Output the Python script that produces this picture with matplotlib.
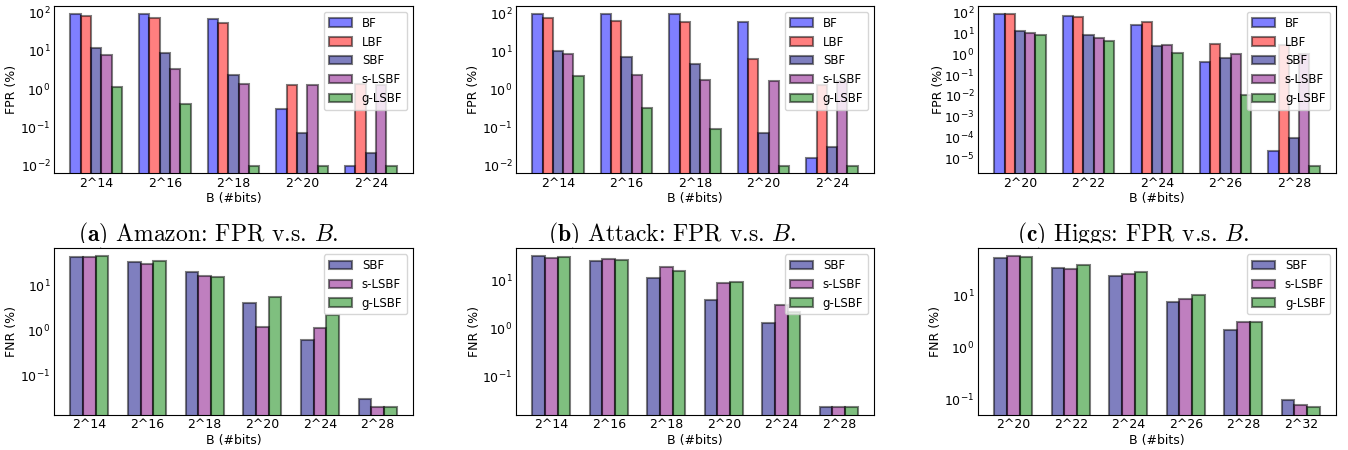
import numpy as np
import matplotlib
matplotlib.use("Agg")
import matplotlib.pyplot as plt
from matplotlib.patches import Rectangle
from matplotlib.ticker import LogLocator

# ---------------- data ----------------
fpr_methods = ["BF", "LBF", "SBF", "s-LSBF", "g-LSBF"]
fnr_methods = ["SBF", "s-LSBF", "g-LSBF"]

amazon_fpr_ticks = ["2^14", "2^16", "2^18", "2^20", "2^24"]
amazon_fpr_bf = [94, 94, 66, 0.295, 0.01]
amazon_fpr_lbf = [80, 74, 55, 1.27, 1.35]
amazon_fpr_sbf = [12.2, 8.7, 2.37, 0.073, 0.021]
amazon_fpr_slsbf = [8.0, 3.26, 1.38, 1.32, 1.32]
amazon_fpr_glsbf = [1.17, 0.40, 0.01, 0.01, 0.01]

attack_fpr_ticks = ["2^14", "2^16", "2^18", "2^20", "2^24"]
attack_fpr_bf = [97, 97, 93, 58, 0.016]
attack_fpr_lbf = [74, 63, 58, 6.4, 1.3]
attack_fpr_sbf = [10, 6.9, 4.5, 0.07, 0.031]
attack_fpr_slsbf = [8.4, 2.33, 1.73, 1.7, 1.7]
attack_fpr_glsbf = [2.2, 0.33, 0.092, 0.01, 0.01]

higgs_fpr_ticks = ["2^20", "2^22", "2^24", "2^26", "2^28"]
higgs_fpr_bf = [90, 72, 26.5, 0.44, 2.2e-5]
higgs_fpr_lbf = [83, 62, 35.5, 3.3, 2.9]
higgs_fpr_sbf = [13.6, 8.7, 2.5, 0.69, 1.0e-4]
higgs_fpr_slsbf = [10.5, 6.3, 2.8, 1.07, 1.0]
higgs_fpr_glsbf = [8.7, 4.5, 1.15, 0.011, 4.5e-6]

amazon_fnr_ticks = ["2^14", "2^16", "2^18", "2^20", "2^24", "2^28"]
amazon_fnr_sbf = [42.4, 32.9, 19.1, 4.0, 0.59, 0.029]
amazon_fnr_slsbf = [43, 29.2, 15.8, 1.19, 1.1, 0.019]
amazon_fnr_glsbf = [44.7, 35, 15.3, 5.5, 2.2, 0.019]

attack_fnr_ticks = ["2^14", "2^16", "2^18", "2^20", "2^24", "2^28"]
attack_fnr_sbf = [31.8, 24.7, 10.8, 3.9, 1.27, 0.0229]
attack_fnr_slsbf = [29.4, 26.8, 18.6, 8.7, 3.1, 0.0229]
attack_fnr_glsbf = [30.4, 25.9, 15.8, 9.2, 2.2, 0.0236]

higgs_fnr_ticks = ["2^20", "2^22", "2^24", "2^26", "2^28", "2^32"]
higgs_fnr_sbf = [51, 33.8, 23.7, 7.3, 2.1, 0.098]
higgs_fnr_slsbf = [57, 31.4, 25.1, 8.6, 3.0, 0.078]
higgs_fnr_glsbf = [55, 38, 27.5, 9.9, 3.1, 0.069]

captions = [r"$\mathbf{(a)}$ Amazon: FPR v.s. $B$.",
            r"$\mathbf{(b)}$ Attack: FPR v.s. $B$.",
            r"$\mathbf{(c)}$ Higgs: FPR v.s. $B$."]

colors = {"BF": "blue", "LBF": "red", "SBF": "navy",
          "s-LSBF": "purple", "g-LSBF": "green"}

# ---------------- figure ----------------
W, H = 1348, 450
fig = plt.figure(figsize=(W / 100, H / 100), dpi=100)
plt.rcParams["font.size"] = 9


def px_axes(x0, x1, y0, y1):
    return fig.add_axes([x0 / W, 1 - y1 / H, (x1 - x0) / W, (y1 - y0) / H])


def draw(ax, ticks, methods, series, width, ylabel, ylab_x):
    x = np.arange(len(ticks))
    allv = []
    for i, (m, vals) in enumerate(zip(methods, series)):
        ax.bar(x + i * width, vals, width, color=colors[m], alpha=0.5,
               edgecolor="black", linewidth=1.5, label=m)
        allv += list(vals)
    ax.set_yscale("log")
    ax.yaxis.set_major_locator(LogLocator(base=10, numticks=20))
    lo, hi = np.log10(min(allv)), np.log10(max(allv))
    pad = 0.05 * (hi - lo)
    ax.set_ylim(10 ** (lo - pad), 10 ** (hi + pad))
    ax.set_xticks(x + width * (len(methods) - 1) / 2)
    ax.set_xticklabels(ticks)
    ax.tick_params(axis="both", which="both", length=0, pad=2.5)
    ax.set_xlabel("B (#bits)", labelpad=1.5)
    ax.set_ylabel(ylabel)
    bb = ax.get_position()
    ax.yaxis.set_label_coords((ylab_x / W - bb.x0) / bb.width, 0.5)
    ax.legend(loc="upper right", fontsize=8.5)


cols = [(54, 413), (516, 874), (978, 1336)]
# right edge (in pixels) of the rotated y labels
top_ylab = [18.5, 480, 945]
bot_ylab = [18.5, 481, 942]
top = [(amazon_fpr_ticks, [amazon_fpr_bf, amazon_fpr_lbf, amazon_fpr_sbf, amazon_fpr_slsbf, amazon_fpr_glsbf]),
       (attack_fpr_ticks, [attack_fpr_bf, attack_fpr_lbf, attack_fpr_sbf, attack_fpr_slsbf, attack_fpr_glsbf]),
       (higgs_fpr_ticks, [higgs_fpr_bf, higgs_fpr_lbf, higgs_fpr_sbf, higgs_fpr_slsbf, higgs_fpr_glsbf])]
bottom = [(amazon_fnr_ticks, [amazon_fnr_sbf, amazon_fnr_slsbf, amazon_fnr_glsbf]),
          (attack_fnr_ticks, [attack_fnr_sbf, attack_fnr_slsbf, attack_fnr_glsbf]),
          (higgs_fnr_ticks, [higgs_fnr_sbf, higgs_fnr_slsbf, higgs_fnr_glsbf])]

for (x0, x1), yl, (tk, ser) in zip(cols, top_ylab, top):
    ax = px_axes(x0, x1, 6, 173.3)
    draw(ax, tk, fpr_methods, ser, 0.15, "FPR (%)", yl)

for (x0, x1), yl, (tk, ser) in zip(cols, bot_ylab, bottom):
    ax = px_axes(x0, x1, 248.3, 415)
    draw(ax, tk, fnr_methods, ser, 0.22, "FNR (%)", yl)

cap_x = [208.5, 671.7, 1133]
for cx, cap in zip(cap_x, captions):
    fig.text(cx / W, 1 - 241.5 / H, cap, ha="center", va="baseline",
             fontsize=17, family="cmr10", math_fontfamily="cm")

# bottom sub-figure's white background clips the caption descenders
fig.patches.append(Rectangle((0, 1 - 247 / H), 1, 4.3 / H, transform=fig.transFigure,
                             facecolor="white", edgecolor="none", zorder=5))

fig.savefig("out.png", dpi=100)
